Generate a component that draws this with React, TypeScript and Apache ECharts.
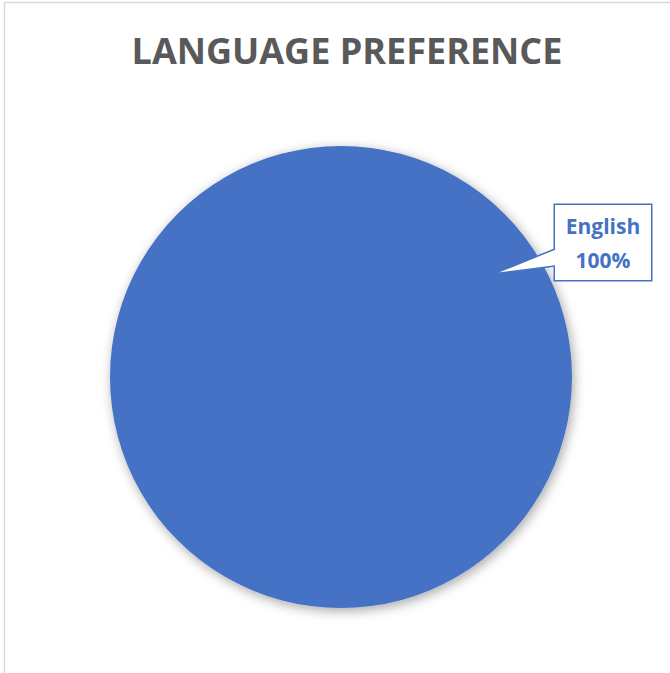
import React, { useEffect, useRef } from "react";
import * as echarts from "echarts";

const categories = ["English"];
const values = [100];
const titleText = "LANGUAGE PREFERENCE";

const W = 670;
const H = 673;
const CX = 341;
const CY = 377;
const R = 231;
const BLUE = "#4472C4";

export default function App() {
  const ref = useRef<HTMLDivElement>(null);
  useEffect(() => {
    if (!ref.current) return;
    const chart = echarts.init(ref.current, undefined, { renderer: "svg" });
    const boxLeft = 555;
    const boxTop = 205;
    const boxW = 96;
    const boxH = 75;
    const tipAng = (-34 * Math.PI) / 180;
    const tipX = CX + 0.8 * R * Math.cos(tipAng);
    const tipY = CY + 0.8 * R * Math.sin(tipAng);
    const wTop = 249;
    const wBot = 266;
    chart.setOption({
      animation: false,
      backgroundColor: "#ffffff",
      title: {
        text: titleText,
        left: 342,
        textAlign: "center",
        top: 27,
        textStyle: {
          fontFamily: "'Open Sans', sans-serif",
          fontWeight: "bold",
          fontSize: 36,
          color: "#595959",
        },
      },
      graphic: [
        {
          type: "rect",
          z: -10,
          silent: true,
          shape: { x: 4.5, y: 2.5, width: W + 20, height: H + 20 },
          style: { fill: "none", stroke: "#d9d9d9", lineWidth: 1.5 },
        },
        {
          type: "polygon",
          z: 100,
          silent: true,
          shape: { points: [[boxLeft + 1.5, wTop], [tipX, tipY], [boxLeft + 1.5, wBot]] },
          style: { fill: "#ffffff", stroke: "none" },
        },
        {
          type: "polyline",
          z: 101,
          silent: true,
          shape: { points: [[boxLeft, wTop], [tipX, tipY], [boxLeft, wBot]] },
          style: { fill: "none", stroke: BLUE, lineWidth: 1.5 },
        },
      ],
      series: [
        {
          type: "pie",
          center: [CX, CY],
          radius: [0, R],
          startAngle: 90,
          data: categories.map((c, i) => ({ name: c, value: values[i] })),
          itemStyle: {
            color: BLUE,
            shadowBlur: 12,
            shadowColor: "rgba(0,0,0,0.35)",
            shadowOffsetX: 2,
            shadowOffsetY: 3,
          },
          emphasis: { disabled: true },
          labelLine: { show: false },
          label: {
            show: true,
            position: "outside",
            formatter: "{b}\n{d}%",
            fontFamily: "'Open Sans', sans-serif",
            fontWeight: "bold",
            fontSize: 21,
            lineHeight: 34,
            color: BLUE,
            align: "center",
            backgroundColor: "#ffffff",
            borderColor: BLUE,
            borderWidth: 1.5,
            width: boxW - 10,
            height: boxH - 6,
            padding: [3, 5],
          },
          labelLayout: () => ({
            x: boxLeft + boxW / 2,
            y: boxTop + boxH / 2,
            align: "center",
            verticalAlign: "middle",
          }),
        },
      ],
    });
    return () => chart.dispose();
  }, []);
  return (
    <div
      ref={ref}
      style={{ position: "fixed", left: 0, top: 0, width: W, height: H }}
    />
  );
}
